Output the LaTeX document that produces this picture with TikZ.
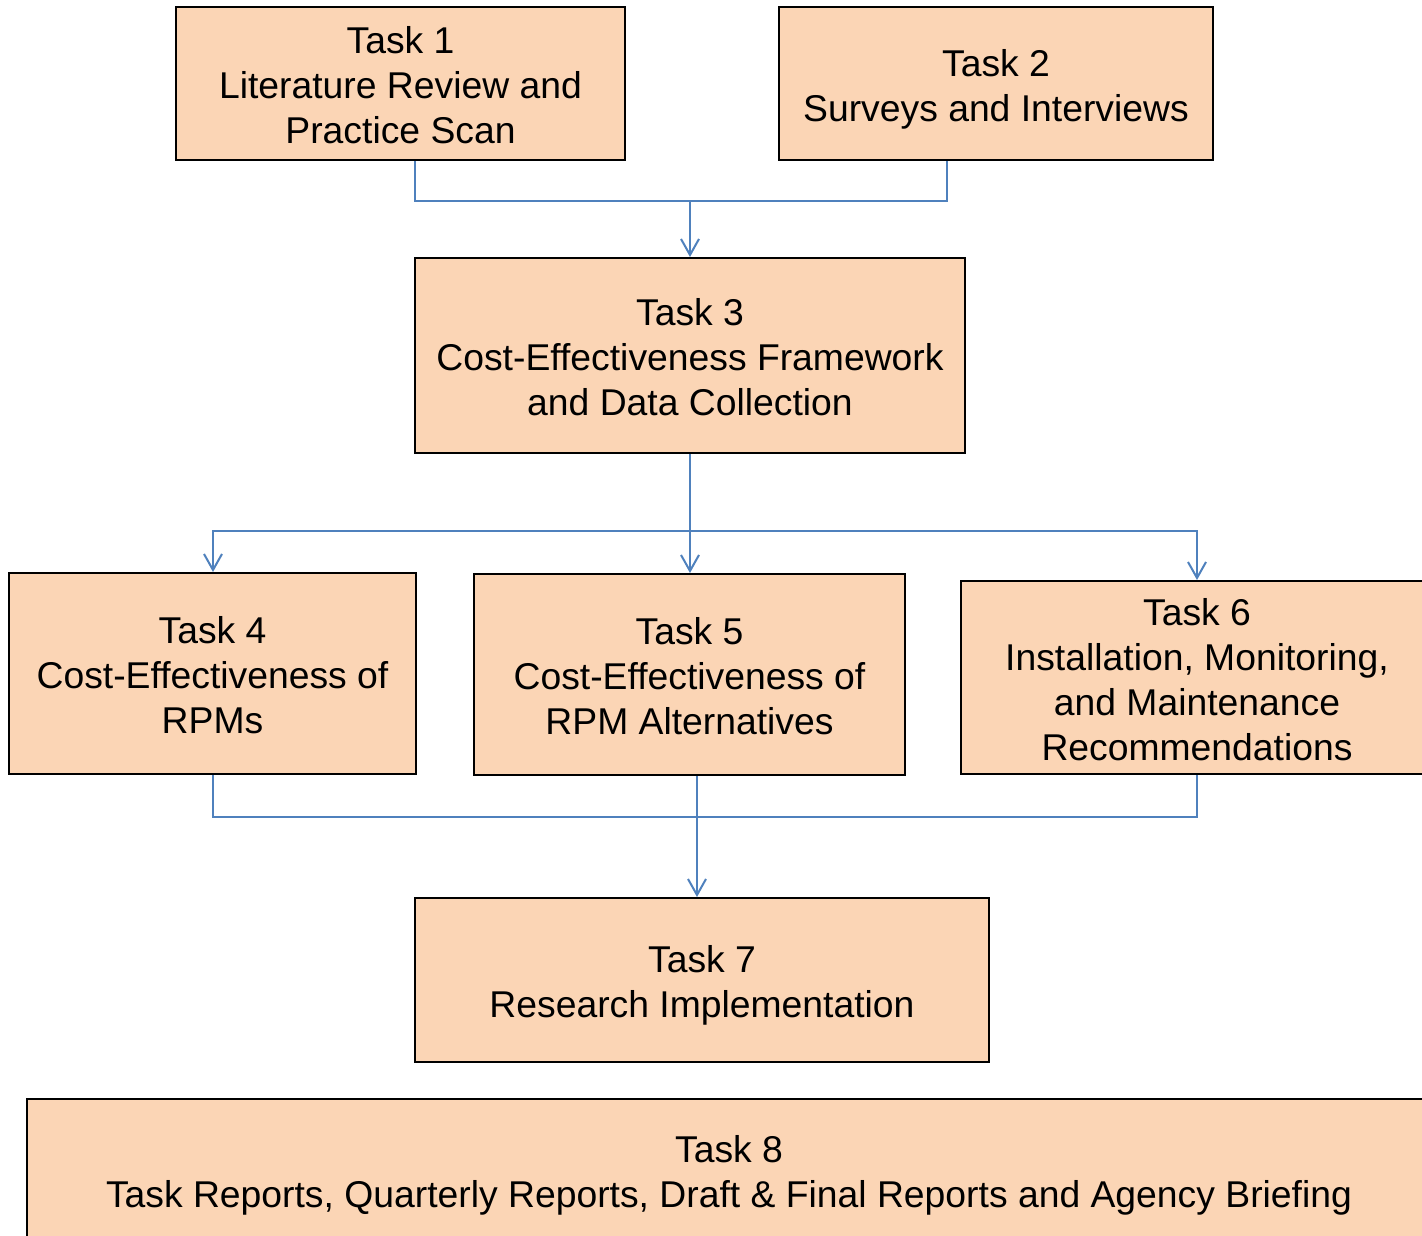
\documentclass[tikz,border=0pt]{standalone}
\usepackage{fontspec}
\setmainfont{Liberation Sans}
\usetikzlibrary{arrows.meta}
\definecolor{boxfill}{HTML}{FBD5B5}
\definecolor{linkblue}{HTML}{4F81BD}
\newcommand\tlines[1]{\raisebox{-6pt}[\height][\depth]{\begin{tabular}{@{}c@{}}#1\end{tabular}}}
\begin{document}
\begin{tikzpicture}[x=1pt,y=-1pt,
 task/.style={draw=black,line width=2pt,fill=boxfill,inner sep=0pt,
   font=\fontsize{37.3}{45}\selectfont},
 link/.style={draw=linkblue,line width=2pt},
 arr/.style={link,-{Straight Barb[length=16pt,width=18pt,line width=2pt]}}]
\useasboundingbox (0,0) rectangle (1422,1235);
\fill[white] (0,0) rectangle (1422,1235);
\node[task,minimum width=449pt,minimum height=153pt] (t1) at (400.5,83.5) {\tlines{Task 1\\Literature Review and\\Practice Scan}};
\node[task,minimum width=434pt,minimum height=153pt] (t2) at (996,83.5) {\tlines{Task 2\\Surveys and Interviews}};
\node[task,minimum width=550pt,minimum height=195pt] (t3) at (690,355.5) {\tlines{Task 3\\Cost-Effectiveness Framework\\and Data Collection}};
\node[task,minimum width=407pt,minimum height=201pt] (t4) at (212.5,673.5) {\tlines{Task 4\\Cost-Effectiveness of\\RPMs}};
\node[task,minimum width=431pt,minimum height=201pt] (t5) at (689.5,674.5) {\tlines{Task 5\\Cost-Effectiveness of\\RPM Alternatives}};
\node[task,minimum width=472pt,minimum height=193pt] (t6) at (1197,677.5) {\tlines{Task 6\\Installation, Monitoring,\\and Maintenance\\Recommendations}};
\node[task,minimum width=574pt,minimum height=164pt] (t7) at (702,980) {\tlines{Task 7\\Research Implementation}};
\node[task,minimum width=1404pt,minimum height=142pt] (t8) at (729,1170) {\tlines{Task 8\\Task Reports, Quarterly Reports, Draft \& Final Reports and Agency Briefing}};
\coordinate (j1) at (690,201);
\coordinate (j2) at (690,531);
\coordinate (j3) at (697,817);
\draw[link] ([xshift=14.5pt]t1.south) |- (j1) -| ([xshift=-49pt]t2.south);
\draw[arr] (j1) -- (t3.north);
\draw[link] (t3.south) -- (j2);
\draw[arr] (j2) -| ([xshift=0.5pt]t4.north);
\draw[arr] (j2) -| (t6.north);
\draw[arr] (j2) -- ([xshift=0.5pt]t5.north);
\draw[link] ([xshift=0.5pt]t4.south) |- (j3) -| (t6.south);
\draw[link] ([xshift=7.5pt]t5.south) -- (j3);
\draw[arr] (j3) -- ([xshift=-5pt]t7.north);
\end{tikzpicture}
\end{document}
